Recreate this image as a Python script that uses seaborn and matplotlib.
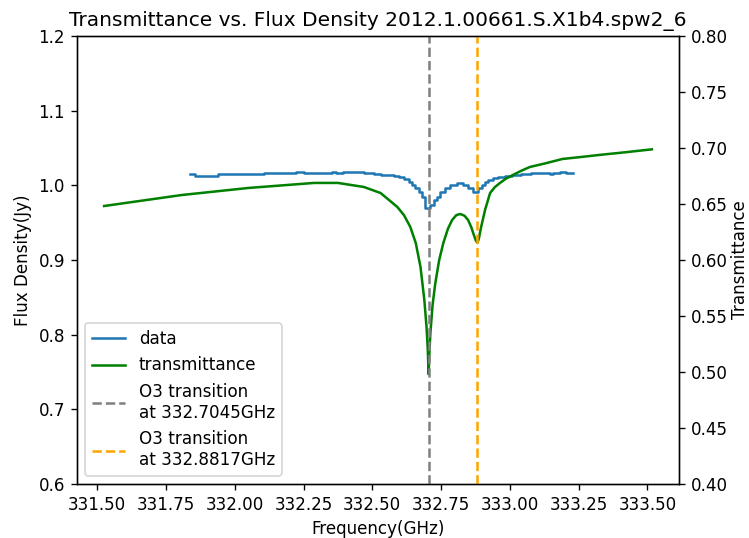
import matplotlib
matplotlib.use("Agg")
import matplotlib.pyplot as plt
import seaborn as sns
import numpy as np
import pandas as pd

# --- transmittance curve (right axis) ---
trans_freq = [331.525, 331.807, 332.049, 332.288, 332.375, 332.469, 332.530, 332.591,
              332.615, 332.638, 332.658, 332.675, 332.689, 332.697, 332.7015, 332.7045,
              332.7075, 332.711, 332.719, 332.729, 332.743, 332.758, 332.775, 332.790,
              332.805, 332.819, 332.835, 332.848, 332.860, 332.868, 332.876, 332.8817,
              332.887, 332.895, 332.910, 332.928, 332.945, 332.964, 332.985, 333.011,
              333.040, 333.072, 333.134, 333.191, 333.260, 333.325, 333.420, 333.516]
trans_vals = [0.6482, 0.6580, 0.6643, 0.6688, 0.6688, 0.6652, 0.6598, 0.6473,
              0.6400, 0.6295, 0.6150, 0.5938, 0.5643, 0.5400, 0.5200, 0.4980,
              0.5180, 0.5348, 0.5600, 0.5795, 0.6000, 0.6152, 0.6280, 0.6357,
              0.6400, 0.6411, 0.6395, 0.6357, 0.6290, 0.6230, 0.6175, 0.6152,
              0.6190, 0.6290, 0.6450, 0.6598, 0.6650, 0.6688, 0.6725, 0.6759,
              0.6795, 0.6830, 0.6866, 0.6902, 0.6920, 0.6938, 0.6962, 0.6988]

# --- measured flux density (left axis), step edges ---
flux_freq = [331.837, 331.855, 331.940, 332.108, 332.223, 332.253, 332.355, 332.367,
             332.392, 332.470, 332.506, 332.530, 332.578, 332.596, 332.614, 332.632,
             332.644, 332.656, 332.669, 332.681, 332.693, 332.711, 332.723, 332.735,
             332.747, 332.765, 332.783, 332.807, 332.831, 332.849, 332.867, 332.885,
             332.897, 332.909, 332.922, 332.940, 332.958, 332.982, 333.006, 333.042,
             333.078, 333.144, 333.156, 333.181, 333.205, 333.229]
flux_vals = [1.0148, 1.0129, 1.0148, 1.0161, 1.0174, 1.0161, 1.0174, 1.0161,
             1.0174, 1.0161, 1.0148, 1.0138, 1.0125, 1.0107, 1.0080, 1.0049,
             1.0004, 0.9960, 0.9915, 0.9848, 0.9692, 0.9736, 0.9803, 0.9848,
             0.9915, 0.9960, 1.0004, 1.0031, 1.0004, 0.9960, 0.9915, 0.9960,
             1.0004, 1.0040, 1.0071, 1.0094, 1.0116, 1.0129, 1.0138, 1.0152,
             1.0161, 1.0148, 1.0169, 1.0183, 1.0169, 1.0169]

o3_lines = [332.7045, 332.8817]
o3_colors = ["gray", "orange"]

DPI = 121
fig, ax1 = plt.subplots(figsize=(749 / DPI, 538 / DPI), dpi=DPI)
fig.subplots_adjust(left=0.1024, right=0.9069, top=0.9331, bottom=0.1004)

flux_df = pd.DataFrame({"freq": flux_freq, "flux": flux_vals})
sns.lineplot(data=flux_df, x="freq", y="flux", ax=ax1, color="#1f77b4",
             drawstyle="steps-post", sort=False, label="data", legend=False)
ax1.set_ylim(0.6, 1.2)
ax1.set_xlabel("Frequency(GHz)")
ax1.set_ylabel("Flux Density(Jy)")

ax2 = ax1.twinx()
trans_df = pd.DataFrame({"freq": trans_freq, "trans": trans_vals})
sns.lineplot(data=trans_df, x="freq", y="trans", ax=ax2, color="green",
             sort=False, label="transmittance", legend=False)
for f, c in zip(o3_lines, o3_colors):
    ax2.axvline(f, color=c, linestyle="--", label=f"O3 transition\nat {f}GHz")
ax2.set_ylim(0.4, 0.8)
ax2.set_ylabel("Transmittance", labelpad=1.5)

h1, l1 = ax1.get_legend_handles_labels()
h2, l2 = ax2.get_legend_handles_labels()
ax2.legend(h1 + h2, l1 + l2, loc="lower left")

ax1.set_title("Transmittance vs. Flux Density 2012.1.00661.S.X1b4.spw2_6")

fig.savefig("out.png", dpi=DPI)
